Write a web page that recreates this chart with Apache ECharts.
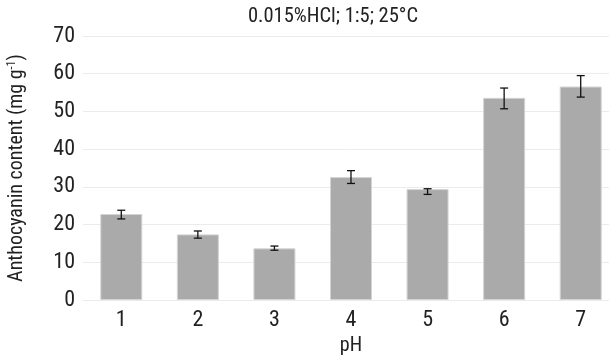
<!DOCTYPE html>
<html><head><meta charset="utf-8">
<script src="https://cdn.jsdelivr.net/npm/echarts@6/dist/echarts.min.js"></script>
<style>html,body{margin:0;padding:0;background:#fff}#c{width:609px;height:358px}</style>
</head><body><div id="c"></div>
<script>
const categories = ['1','2','3','4','5','6','7'];
const values = [22.8, 17.4, 13.7, 32.6, 29.4, 53.6, 56.6];
const lower = [21.5, 16.4, 13.2, 30.9, 28.0, 50.7, 53.8];
const upper = [23.8, 18.3, 14.3, 34.3, 29.5, 56.2, 59.5];
const yTicks = [0, 10, 20, 30, 40, 50, 60, 70];
const titleText = '0.015%HCl; 1:5; 25°C';
const xName = 'pH';

const FONT = '"Liberation Sans Narrow", "Roboto Condensed", Roboto, sans-serif';
const chart = echarts.init(document.getElementById('c'), null, {renderer: 'canvas'});
const errData = categories.map((c, i) => [i, lower[i], upper[i]]);
chart.setOption({
  animation: false,
  textStyle: {fontFamily: FONT},
  grid: {left: 83, top: 36, height: 264, width: 536, containLabel: false, outerBoundsMode: 'none'},
  graphic: [{type: 'text', x: 333, y: 17, style: {text: titleText, fontFamily: FONT, fontSize: 20.5, fill: '#222', textAlign: 'center', textVerticalAlign: 'middle'}}],
  xAxis: {
    type: 'category', data: categories,
    axisLine: {show: false}, axisTick: {show: false},
    axisLabel: {color: '#222', fontSize: 22, fontFamily: FONT, margin: 9},
    name: xName, nameLocation: 'middle', nameGap: 36,
    nameTextStyle: {color: '#222', fontSize: 20, fontFamily: FONT}
  },
  yAxis: {
    type: 'value', min: yTicks[0], max: yTicks[yTicks.length - 1], interval: 10,
    axisLine: {show: false}, axisTick: {show: false},
    splitLine: {lineStyle: {color: '#ebebeb', width: 1}},
    axisLabel: {color: '#222', fontSize: 22, fontFamily: FONT, margin: 8},
    name: 'Anthocyanin content (mg g{sup|-1})', nameLocation: 'middle', nameGap: 56, nameRotate: 90,
    nameTextStyle: {color: '#222', fontSize: 20, fontFamily: FONT,
      rich: {sup: {fontSize: 12, fontFamily: FONT, color: '#222', padding: [0, 0, 9, 0]}}}
  },
  series: [{
    type: 'bar', data: values, barWidth: 42,
    itemStyle: {color: '#aaaaaa', borderColor: '#d4d4d4', borderWidth: 1}
  }, {
    type: 'custom', data: errData, z: 10,
    renderItem: function (params, api) {
      const x = api.coord([api.value(0), 0])[0];
      const lo = api.coord([api.value(0), api.value(1)])[1];
      const hi = api.coord([api.value(0), api.value(2)])[1];
      const hw = 4;
      const st = {stroke: '#111', lineWidth: 1.3};
      return {type: 'group', children: [
        {type: 'line', shape: {x1: x, y1: lo, x2: x, y2: hi}, style: st},
        {type: 'line', shape: {x1: x - hw, y1: lo, x2: x + hw, y2: lo}, style: st},
        {type: 'line', shape: {x1: x - hw, y1: hi, x2: x + hw, y2: hi}, style: st}
      ]};
    }
  }]
});
</script></body></html>
